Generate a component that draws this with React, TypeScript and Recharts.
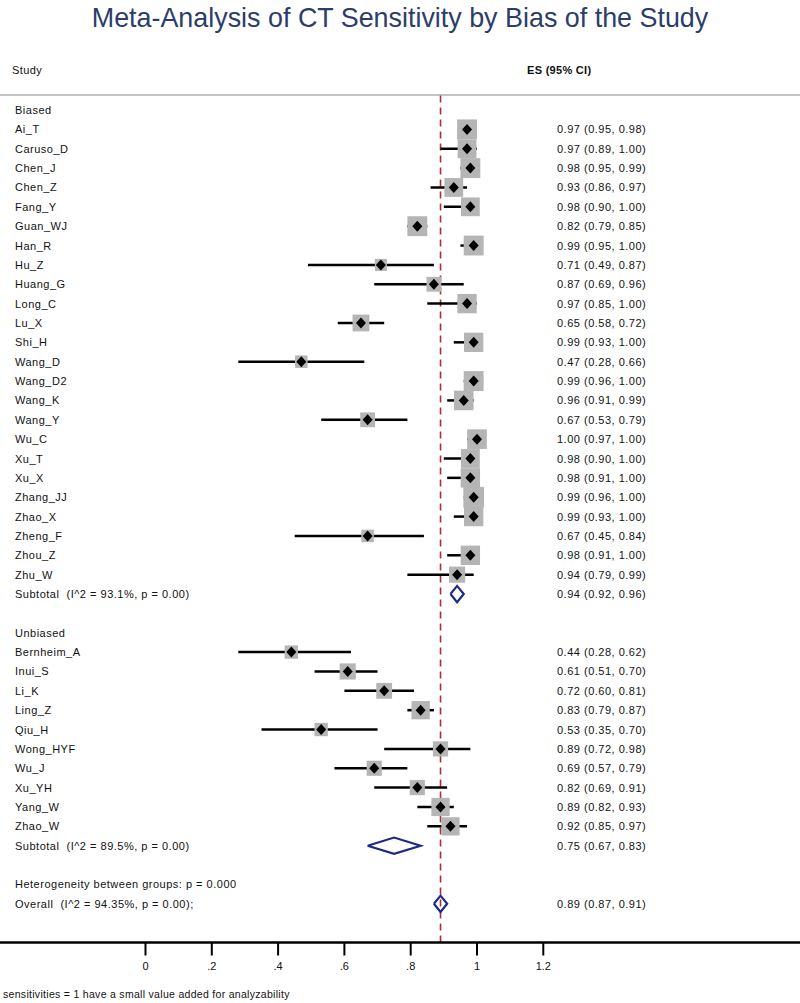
import React from 'react';
import {
  ComposedChart, Scatter, XAxis, YAxis, ErrorBar, ReferenceLine,
} from 'recharts';

// Biased studies
const biasedNames = [
  'Ai_T', 'Caruso_D', 'Chen_J', 'Chen_Z', 'Fang_Y', 'Guan_WJ', 'Han_R', 'Hu_Z',
  'Huang_G', 'Long_C', 'Lu_X', 'Shi_H', 'Wang_D', 'Wang_D2', 'Wang_K', 'Wang_Y',
  'Wu_C', 'Xu_T', 'Xu_X', 'Zhang_JJ', 'Zhao_X', 'Zheng_F', 'Zhou_Z', 'Zhu_W',
];
const biasedES = [0.97, 0.97, 0.98, 0.93, 0.98, 0.82, 0.99, 0.71, 0.87, 0.97, 0.65, 0.99, 0.47, 0.99, 0.96, 0.67, 1.0, 0.98, 0.98, 0.99, 0.99, 0.67, 0.98, 0.94];
const biasedLow = [0.95, 0.89, 0.95, 0.86, 0.9, 0.79, 0.95, 0.49, 0.69, 0.85, 0.58, 0.93, 0.28, 0.96, 0.91, 0.53, 0.97, 0.9, 0.91, 0.96, 0.93, 0.45, 0.91, 0.79];
const biasedHigh = [0.98, 1.0, 0.99, 0.97, 1.0, 0.85, 1.0, 0.87, 0.96, 1.0, 0.72, 1.0, 0.66, 1.0, 0.99, 0.79, 1.0, 1.0, 1.0, 1.0, 1.0, 0.84, 1.0, 0.99];
const biasedWeight = [3.8, 3.4, 3.8, 3.4, 3.4, 3.8, 3.8, 1.4, 2.1, 3.6, 2.7, 3.6, 1.5, 3.8, 3.7, 2.1, 3.7, 3.4, 3.6, 4.1, 3.6, 1.5, 3.6, 2.5];

// Unbiased studies
const unbiasedNames = ['Bernheim_A', 'Inui_S', 'Li_K', 'Ling_Z', 'Qiu_H', 'Wong_HYF', 'Wu_J', 'Xu_YH', 'Yang_W', 'Zhao_W'];
const unbiasedES = [0.44, 0.61, 0.72, 0.83, 0.53, 0.89, 0.69, 0.82, 0.89, 0.92];
const unbiasedLow = [0.28, 0.51, 0.6, 0.79, 0.35, 0.72, 0.57, 0.69, 0.82, 0.85];
const unbiasedHigh = [0.62, 0.7, 0.81, 0.87, 0.7, 0.98, 0.79, 0.91, 0.93, 0.97];
const unbiasedWeight = [1.7, 2.5, 2.4, 3.2, 1.7, 2.2, 2.2, 2.2, 3.2, 3.2];

// pooled estimates: biased, unbiased, overall
const pooledES = [0.94, 0.75, 0.89];
const pooledLow = [0.92, 0.67, 0.87];
const pooledHigh = [0.96, 0.83, 0.91];
const pooledI2 = ['93.1%', '89.5%', '94.35%'];
const heterogeneityP = '0.000';

const xTicks = [0, 0.2, 0.4, 0.6, 0.8, 1, 1.2];

const FONT = "'Liberation Sans', Arial, Helvetica, sans-serif";
const fmt = (es: number, lo: number, hi: number) =>
  `${es.toFixed(2)} (${lo.toFixed(2)}, ${hi.toFixed(2)})`;

const textRows: any[] = [];
const studies: any[] = [];
const diamonds: any[][] = [];

const addGroup = (title: string, start: number, names: string[], es: number[], lo: number[], hi: number[], w: number[], g: number) => {
  textRows.push({ x: 0, y: start, left: title });
  names.forEach((n, i) => {
    const row = start + 1 + i;
    textRows.push({ x: 0, y: row, left: n, right: fmt(es[i], lo[i], hi[i]) });
    studies.push({ x: es[i], y: row, err: [es[i] - lo[i], hi[i] - es[i]], w: w[i] });
  });
  const sub = start + 1 + names.length;
  textRows.push({
    x: 0,
    y: sub,
    left: `Subtotal  (I^2 = ${pooledI2[g]}, p = 0.00)`,
    right: fmt(pooledES[g], pooledLow[g], pooledHigh[g]),
  });
  return sub;
};

const diamondPts = (g: number, row: number) => {
  const h = 0.42;
  return [
    { x: pooledLow[g], y: row },
    { x: pooledES[g], y: row - h },
    { x: pooledHigh[g], y: row },
    { x: pooledES[g], y: row + h },
    { x: pooledLow[g], y: row },
  ];
};

const sub1 = addGroup('Biased', 0, biasedNames, biasedES, biasedLow, biasedHigh, biasedWeight, 0);
diamonds.push(diamondPts(0, sub1));
const sub2 = addGroup('Unbiased', sub1 + 2, unbiasedNames, unbiasedES, unbiasedLow, unbiasedHigh, unbiasedWeight, 1);
diamonds.push(diamondPts(1, sub2));
const hetRow = sub2 + 2;
const overallRow = sub2 + 3;
textRows.push({ x: 0, y: hetRow, left: `Heterogeneity between groups: p = ${heterogeneityP}` });
textRows.push({
  x: 0,
  y: overallRow,
  left: `Overall  (I^2 = ${pooledI2[2]}, p = 0.00);`,
  right: fmt(pooledES[2], pooledLow[2], pooledHigh[2]),
});
diamonds.push(diamondPts(2, overallRow));

const RowLabel = (props: any) => {
  const { cy, payload } = props;
  return (
    <g>
      <text x={15} y={cy} dy={4} fontSize={11} letterSpacing={0.5} fill="#111" fontFamily={FONT} style={{ whiteSpace: 'pre' }}>{payload.left}</text>
      {payload.right && (
        <text x={557} y={cy} dy={4} fontSize={11} letterSpacing={0.5} fill="#111" fontFamily={FONT}>{payload.right}</text>
      )}
    </g>
  );
};

const WeightBox = (props: any) => {
  const { cx, cy, payload } = props;
  const s = 10.2 * Math.sqrt(payload.w);
  return <rect x={cx - s / 2} y={cy - s / 2} width={s} height={s} fill="#b5b5b5" />;
};

const PointMark = (props: any) => {
  const { cx, cy } = props;
  return <path d={`M${cx - 5},${cy}L${cx},${cy - 5.5}L${cx + 5},${cy}L${cx},${cy + 5.5}Z`} fill="#000" />;
};

const NoMark = () => <g />;

const App: React.FC = () => {
  return (
    <div style={{ position: 'absolute', left: 0, top: 0, width: 800, height: 1003, background: '#fff', fontFamily: FONT }}>
      <div
        style={{
          position: 'absolute', top: 0, left: 0, width: 800, textAlign: 'center',
          fontSize: 28, color: '#2c3d6c', lineHeight: '36px', transform: 'scaleX(0.96)',
        }}
      >
        Meta-Analysis of CT Sensitivity by Bias of the Study
      </div>
      <div style={{ position: 'absolute', top: 64, left: 12, fontSize: 11, letterSpacing: 0.4, color: '#111' }}>Study</div>
      <div style={{ position: 'absolute', top: 64, left: 527, fontSize: 11, fontWeight: 'bold', letterSpacing: 0.3, color: '#111' }}>ES (95% CI)</div>
      <div style={{ position: 'absolute', top: 94, left: 0, width: 800, height: 2, background: '#c4c4c4' }} />
      <div style={{ position: 'absolute', top: 988, left: 3, fontSize: 10.5, letterSpacing: 0.3, color: '#111' }}>
        sensitivities = 1 have a small value added for analyzability
      </div>
      <div style={{ position: 'absolute', left: 0, top: 0 }}>
        <ComposedChart width={800} height={1003} margin={{ top: 95.5, right: 0, bottom: 20.5, left: 0 }}>
          <XAxis
            type="number"
            dataKey="x"
            domain={[-0.4389, 1.9744]}
            allowDataOverflow
            ticks={xTicks}
            interval={0}
            height={40}
            tickSize={13}
            tickMargin={7}
            tickFormatter={(v: number) => String(v).replace(/^0\./, '.')}
            axisLine={{ stroke: '#000', strokeWidth: 2.5 }}
            tickLine={{ stroke: '#000', strokeWidth: 2 }}
            tick={{ fill: '#111', fontSize: 11, fontFamily: FONT }}
          />
          <YAxis
            type="number"
            dataKey="y"
            domain={[-0.75, 43]}
            reversed
            allowDataOverflow
            width={0}
            axisLine={false}
            tickLine={false}
            tick={false}
          />
          <ReferenceLine x={pooledES[2]} stroke="#a8303a" strokeWidth={1.6} strokeDasharray="7 5" />
          <Scatter data={textRows} shape={RowLabel} isAnimationActive={false} />
          <Scatter data={studies} shape={WeightBox} isAnimationActive={false} />
          <Scatter data={studies} shape={PointMark} isAnimationActive={false}>
            <ErrorBar dataKey="err" direction="x" width={0} stroke="#000" strokeWidth={2.5} isAnimationActive={false} />
          </Scatter>
          {diamonds.map((d, i) => (
            <Scatter
              key={i}
              data={d}
              shape={NoMark}
              line={{ stroke: '#1c2a86', strokeWidth: 2.2 }}
              lineJointType="linear"
              isAnimationActive={false}
            />
          ))}
        </ComposedChart>
      </div>
    </div>
  );
};

export default App;
